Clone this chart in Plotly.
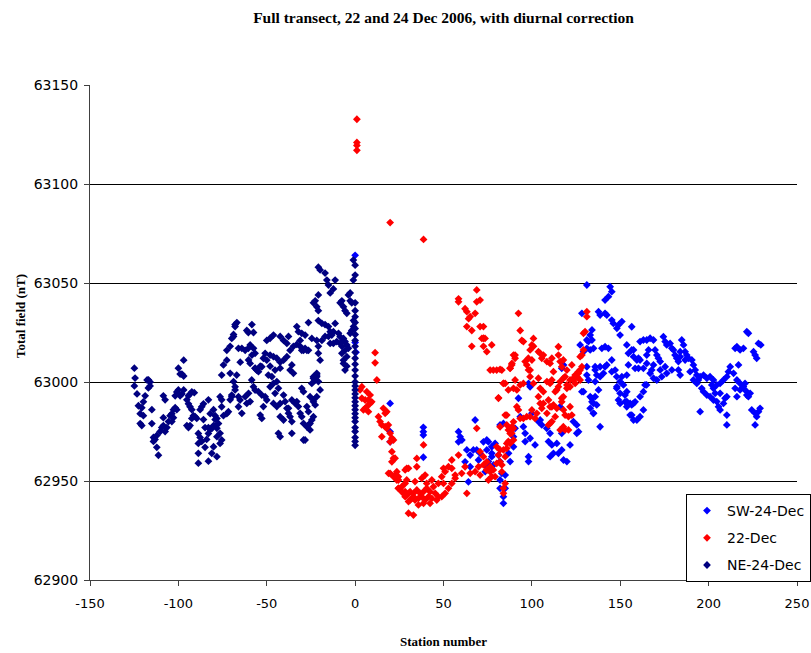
import plotly.graph_objects as go

# ---------------- data (station number, total field nT) ----------------
series_names = ["SW-24-Dec", "22-Dec", "NE-24-Dec"]
series_colors = ["#0000FF", "#FF0000", "#000080"]
x_ticks = [-150, -100, -50, 0, 50, 100, 150, 200, 250]
y_ticks = [62900, 62950, 63000, 63050, 63100, 63150]

ne_points = [
    (-124.9, 63007), (-124.5, 63002), (-124.9, 62998), (-123.4, 62994), (-117.7, 63001), (-116.9, 63001),
    (-116.0, 63000), (-118.8, 62993), (-117.0, 62997), (-116.0, 62998), (-119.8, 62990), (-122.6, 62988),
    (-120.7, 62987), (-121.6, 62984), (-119.8, 62983), (-121.6, 62979), (-120.7, 62978), (-115.0, 62986),
    (-115.0, 62979), (-114.1, 62972), (-113.2, 62971), (-112.2, 62973), (-114.1, 62970), (-112.2, 62967),
    (-111.3, 62963), (-110.3, 62975), (-109.4, 62977), (-108.5, 62978), (-108.5, 62982), (-106.5, 62977),
    (-107.5, 62975), (-105.6, 62980), (-104.7, 62983), (-103.7, 62984), (-102.8, 62986), (-101.8, 62987),
    (-100.9, 62986), (-102.8, 62982), (-103.7, 62980), (-108.5, 62993), (-107.5, 62991), (-101.8, 62993),
    (-100.9, 62995), (-100.0, 62996), (-99.0, 62993), (-98.0, 62994), (-97.0, 62996), (-100.0, 63007),
    (-99.0, 63004), (-98.0, 63004), (-97.0, 63003), (-97.0, 63011),
    (-95.2, 62991), (-94.3, 62989), (-93.4, 62987.5), (-92.4, 62986), (-91.5, 62983), (-92.4, 62981.6),
    (-93.4, 62978), (-94.3, 62977), (-95.2, 62978), (-94.3, 62993), (-93.4, 62994), (-92.4, 62995),
    (-91.0, 62994.6), (-90.5, 62982.5), (-89.6, 62981.6), (-87.7, 62986), (-86.8, 62987.5), (-85.8, 62989),
    (-88.7, 62974), (-87.7, 62972), (-88.7, 62969), (-86.8, 62970), (-84.0, 62971), (-84.9, 62967),
    (-83.0, 62974), (-82.0, 62976), (-88.7, 62964), (-88.7, 62959), (-83.0, 62960), (-85.8, 62981),
    (-84.9, 62977), (-83.0, 62977), (-81.0, 62976.6), (-80.1, 62978), (-79.2, 62981), (-78.2, 62981.6),
    (-77.3, 62979), (-78.2, 62976.6), (-83.0, 62991), (-82.0, 62984), (-80.1, 62986), (-79.2, 62983),
    (-76.4, 62992.6), (-75.5, 62991), (-75.5, 62987.5), (-74.5, 62983), (-72.6, 62984), (-71.7, 62985),
    (-70.7, 62991), (-69.8, 62993.4), (-75.5, 63003.5), (-74.5, 63008.6), (-72.6, 63011), (-72.6, 63016),
    (-70.7, 63018), (-69.8, 63022), (-68.8, 63024), (-67.9, 63029), (-66.9, 63030), (-66.0, 63017),
    (-70.7, 63004.4), (-68.8, 63000.2), (-67.9, 62996), (-66.0, 62992.6), (-66.0, 62987.5), (-76.4, 62974.1),
    (-75.5, 62970.7), (-78.2, 62972.4), (-80.1, 62967.3), (-81.1, 62964), (-78.2, 62962.3), (-76.4, 62969),
    (-67.9, 63028), (-68.8, 63023), (-61.3, 63026), (-60.4, 63025), (-58.4, 63029), (-57.5, 63025),
    (-64.1, 63017), (-62.2, 63016), (-60.4, 63017), (-59.4, 63018.7), (-57.5, 63017), (-56.6, 63014.5),
    (-58.4, 63013.6), (-65.0, 63010), (-56.6, 63007), (-55.7, 63006), (-53.7, 63008), (-50.0, 63021),
    (-50.9, 63014.5), (-51.9, 63012), (-50.0, 63011), (-48.1, 63013.6), (-46.2, 63012.8), (-44.3, 63012),
    (-42.4, 63010), (-40.5, 63011), (-38.6, 63012.8), (-36.8, 63016), (-34.9, 63018), (-33.0, 63019),
    (-31.1, 63018), (-29.2, 63016), (-27.3, 63016), (-42.4, 63023), (-40.5, 63021), (-38.6, 63019.5),
    (-37.7, 63023), (-48.1, 63008), (-49.1, 63003.5), (-47.1, 63002.7), (-45.3, 63006), (-42.4, 63007),
    (-35.8, 63008.6), (-36.8, 63006), (-34.9, 63004.4), (-33.0, 63028), (-32.1, 63025.4), (-30.2, 63024.6),
    (-28.3, 63023.7), (-31.1, 63021), (-26.4, 63030), (-24.5, 63022), (-26.4, 63016), (-30.2, 63016),
    (-28.3, 63017), (-23.6, 63040), (-22.6, 63041), (-21.7, 63038), (-20.8, 63044), (-20.8, 63036),
    (-20.8, 63058), (-19.8, 63056.6), (-17.0, 63055), (-16.0, 63051.5), (-15.1, 63049), (-14.1, 63045),
    (-12.3, 63047), (-11.3, 63051.5), (-20.8, 63031), (-18.8, 63029.6), (-17.0, 63029), (-15.1, 63028),
    (-14.1, 63025.4), (-13.2, 63023.7), (-12.3, 63025.4), (-11.3, 63029.6), (-9.4, 63024.6), (-8.5, 63022.9),
    (-6.6, 63022), (-5.7, 63020.4), (-4.7, 63018.7), (-3.8, 63017), (-21.7, 63021), (-20.8, 63018),
    (-20.8, 63014.5), (-19.8, 63011), (-18.8, 63021), (-17.0, 63023), (-15.1, 63023), (-14.1, 63019.5),
    (-12.3, 63019.5), (-10.4, 63020.4), (-8.5, 63019.5), (-7.5, 63018), (-5.7, 63016), (-6.6, 63011),
    (-4.7, 63008), (-5.7, 63006), (-23.6, 63002.7), (-22.6, 63001), (-21.7, 63004.4), (-8.5, 63040),
    (-6.6, 63038), (-5.7, 63036), (-3.8, 63044), (-2.8, 63041), (-1.0, 63061.6), (0.0, 63059),
    (0.0, 63054), (-1.0, 63051.5), (-2.8, 63045), (-7.5, 63041), (-1.9, 63040), (-4.7, 63034.7),
    (-0.9, 63028), (-1.9, 63026), (-2.8, 63024.6), (-0.9, 63031), (-6.6, 63021), (-7.5, 63014.5),
    (-4.7, 63012.8), (-6.6, 63009.4),
    (-67.0, 63003.5), (-67.9, 62997.6), (-69.8, 62992.6), (-65.1, 62990.9), (-62.2, 62992.6), (-60.3, 62994.3),
    (-58.5, 63001.0), (-57.5, 62997.6), (-56.6, 62995.9), (-54.7, 62995.1), (-52.8, 62993.4), (-50.9, 62992.6),
    (-50.0, 62990.9), (-51.9, 62987.6), (-53.7, 62983.3), (-52.8, 62981.6), (-64.1, 62984.2), (-61.3, 62989.2),
    (-59.4, 62990.1), (-48.1, 62997.6), (-46.2, 62999.3), (-44.3, 63000.2), (-43.4, 62996.8), (-45.3, 62994.3),
    (-46.2, 62989.2), (-44.3, 62987.6), (-42.4, 62989.2), (-40.5, 62993.4), (-39.6, 62990.1), (-38.6, 62986.7),
    (-37.7, 62984.2), (-36.8, 62982.5), (-35.8, 62980.0), (-40.5, 62980.8), (-42.4, 62982.5), (-43.4, 62974.1),
    (-42.4, 62972.4), (-35.8, 62974.1), (-37.7, 62986.7), (-35.8, 62990.9), (-33.9, 62989.2), (-33.0, 62990.1),
    (-32.1, 62987.6), (-31.1, 62984.2), (-30.2, 62982.5), (-29.2, 62979.1), (-27.3, 62977.4), (-26.4, 62978.3),
    (-28.3, 62970.7), (-25.5, 62975.8), (-24.5, 62980.8), (-26.4, 62985.0), (-27.3, 62987.6), (-30.2, 62996.8),
    (-29.2, 62995.1), (-25.5, 62992.6), (-23.6, 62990.9), (-22.6, 62988.4), (-24.5, 62999.3), (-23.6, 63001.9),
    (-21.7, 63003.5), (-56.6, 63006.9), (-54.7, 63005.2), (-52.8, 63007.7), (-60.3, 63011.1), (-59.4, 63009.4),
    (-48.1, 63022.1), (-46.2, 63023.7), (-29.2, 62970.7), (-25.5, 62979.0), (-23.6, 62982.5), (-21.7, 63002.7),
    (-20.8, 63000.2), (-19.8, 62996.0), (-21.7, 62992.6), (-23.6, 62990.0),
    (0.0, 63040), (0.0, 63036), (0.0, 63033), (0.0, 63030), (0.0, 63027), (0.0, 63024), (0.0, 63021),
    (0.0, 63018), (0.0, 63015), (0.0, 63012), (0.0, 63009), (0.0, 63006), (0.0, 63003), (0.0, 63000),
    (0.0, 62998), (0.0, 62996), (0.0, 62994), (0.0, 62992), (0.0, 62990), (0.0, 62988), (0.0, 62986),
    (0.0, 62984), (0.0, 62982), (0.0, 62980), (0.0, 62977), (0.0, 62975), (0.0, 62972), (0.0, 62970),
    (0.0, 62968),
]

dec22_points = [
    (1.0, 63132.7), (1.0, 63121), (1.0, 63119.5), (1.0, 63117), (19.8, 63080.5), (38.7, 63072),
    (11.3, 63014.8), (11.3, 63009.7), (12.3, 63001), (3.8, 62997.6), (6.6, 62995.1), (8.5, 62993.4),
    (7.5, 62990.9), (5.7, 62990.9), (8.5, 62989.2), (9.4, 62990), (6.6, 62987.5), (7.5, 62985),
    (4.7, 62985.9), (2.8, 62996), (3.8, 62991.8), (5.7, 62986.7), (13.2, 62982.5), (14.1, 62980),
    (15.1, 62978.3), (17.0, 62977.4), (17.9, 62976.6), (18.8, 62978.3), (16.0, 62986.7), (17.9, 62985),
    (17.0, 62984.2), (15.1, 62972.4), (19.8, 62974.1), (20.8, 62971.6), (21.7, 62970.7), (19.8, 62969.8),
    (20.8, 62964.8), (21.7, 62961.5), (22.6, 62961.5), (20.8, 62959.7), (19.8, 62953.9), (22.6, 62953),
    (24.5, 62952.2), (23.6, 62950.5), (24.5, 62946.3), (26.4, 62947.1), (28.3, 62955.6), (30.2, 62956.4),
    (29.2, 62950.5), (28.3, 62948.8), (28.3, 62944.6), (30.2, 62943.8), (31.1, 62940.4), (33.0, 62942.1),
    (30.2, 62933.7), (33.0, 62932.8),
    (18.9, 62953.9), (21.7, 62952.2), (23.6, 62954.7), (24.5, 62950.5), (27.3, 62943.8), (29.2, 62942.9),
    (31.1, 62944.6), (33.0, 62943.8), (34.9, 62945.5), (36.8, 62943.8), (38.7, 62944.6), (40.5, 62946.3),
    (42.4, 62944.6), (44.3, 62947.1), (45.3, 62943.8), (47.1, 62942.1), (43.4, 62941.2), (41.5, 62942.1),
    (39.6, 62940.4), (37.7, 62942.1), (35.8, 62941.2), (33.9, 62940.4), (32.1, 62941.2), (30.2, 62939.6),
    (28.3, 62942.1), (26.4, 62944.6), (24.5, 62946.3), (35.8, 62937.9), (38.7, 62938.7), (42.4, 62938.7),
    (46.2, 62940.4), (49.0, 62942.1), (50.9, 62943.8), (52.8, 62946.3), (54.7, 62948.8), (56.6, 62951.4),
    (33.9, 62949.7), (37.7, 62951.4), (40.5, 62948.8), (43.4, 62950.5), (47.1, 62948.8), (49.0, 62952.2),
    (50.9, 62954.7), (52.8, 62957.2), (54.7, 62960.6), (58.5, 62963.1), (39.6, 62953.0), (34.9, 62961.4),
    (34.9, 62957.2), (38.7, 62968.2), (29.2, 62956.4), (63.2, 62943.8), (60.3, 62953.9), (65.1, 62953.9),
    (67.9, 62954.7), (69.8, 62957.2), (72.6, 62958.1), (74.5, 62955.5), (76.4, 62954.7), (77.3, 62952.2),
    (70.7, 62953.0), (56.6, 62953.0), (54.7, 62956.4), (50.0, 62956.4), (62.2, 62957.2), (50.0, 62948.8),
    (68.8, 62976.6),
    (58.5, 63042), (58.5, 63040.5), (68.8, 63046.5), (62.2, 63037), (63.2, 63035.5), (64.2, 63032),
    (65.1, 63033), (67.9, 63034.7), (63.2, 63028), (66.0, 63026), (66.0, 63018), (68.8, 63040.5),
    (70.7, 63028), (72.6, 63028), (73.5, 63022), (71.7, 63022), (77.3, 63018.7), (74.5, 63015.3),
    (72.6, 63018), (76.4, 63006), (78.2, 63006), (80.1, 63006), (82.0, 63006.4), (83.0, 63006),
    (83.9, 62999.3), (86.7, 62996), (81.1, 62992), (85.8, 62983.3), (89.6, 62976.6), (87.7, 62974),
    (82.0, 62977.4), (83.9, 62965.7), (85.8, 62969), (86.7, 62970), (89.6, 62970.7), (92.4, 63034.7),
    (93.4, 63026), (94.3, 63021), (95.2, 63020.4), (89.6, 63013.6), (90.5, 63012), (88.7, 63009.4),
    (87.7, 63007), (100.9, 63018),
    (96.2, 63010.3), (97.1, 63008.6), (98.0, 63012), (99.0, 63016.2), (100.0, 63018.7), (100.9, 63022),
    (100.0, 63011.1), (99.0, 63006), (103.7, 63015.3), (104.7, 63014.5), (105.6, 63012), (106.5, 63013.6),
    (108.5, 63010.3), (110.3, 63009.4), (111.3, 63012), (115.0, 63017.8), (115.0, 63013.6), (116.0, 63010.3),
    (116.9, 63007.7), (117.8, 63011.1), (119.8, 63006), (121.6, 63001), (123.5, 63001.9), (125.4, 63002.7),
    (126.3, 63005.2), (127.3, 63006), (128.3, 63007.7), (127.3, 63012.8), (128.3, 63013.6), (129.2, 63016.2),
    (129.2, 63024.6), (130.1, 63025.4), (131.1, 63033), (131.1, 63035.5),
    (84.9, 62999.3), (90.5, 63001), (89.6, 62996.8), (91.5, 62996), (93.4, 62998.5), (95.2, 62999.3),
    (99.0, 63002.7), (100.9, 62999.3), (103.7, 63001.9), (104.7, 62996.8), (106.5, 62995.1), (108.5, 63000.2),
    (110.3, 62999.3), (111.3, 63001), (113.2, 62995.1), (115.0, 62997.6), (116.0, 63000.2), (117.8, 63001.9),
    (119.8, 62998.5), (121.6, 62997.6), (124.5, 62999.3), (125.4, 63002.7), (126.3, 63004.4), (127.3, 63001),
    (81.1, 62991.8), (84.9, 62983.3), (85.8, 62978.3), (86.7, 62975.8), (88.7, 62977.4), (89.6, 62979.9),
    (91.5, 62987.5), (92.4, 62985.9), (93.4, 62981.6), (95.2, 62981.6), (97.1, 62982.5), (99.0, 62982.5),
    (100.0, 62985.9), (101.8, 62981.6), (102.8, 62984.2), (105.6, 62986.7), (106.5, 62989.2), (108.5, 62984.2),
    (109.4, 62978.3), (110.3, 62979.1), (111.3, 62987.5), (113.2, 62982.5), (114.1, 62986.7), (116.9, 62990),
    (117.8, 62992.6), (118.8, 62983.3), (120.7, 62982.5), (122.6, 62983.3), (116.0, 62975.8), (118.8, 62975.8),
    (120.7, 62975.8), (117.8, 62977.4),
    (70.7, 62964.8), (72.6, 62962.3), (74.5, 62959.7), (76.4, 62957.2), (78.2, 62955.6), (80.1, 62958.9),
    (81.1, 62963.1), (82.0, 62959.7), (83.0, 62954.7), (74.5, 62955.6), (75.4, 62950.5), (79.2, 62952.2),
    (80.1, 62967.3), (84.9, 62948.8), (83.9, 62946.3), (83.9, 62943.8),
    (70.7, 63041.4), (72.6, 63022.1), (87.7, 63006.9), (88.6, 63008.6), (90.5, 63013.6), (98.1, 63006.1),
    (112.2, 63005.2), (118.8, 63002.7), (122.6, 63008.6), (124.5, 63003.5), (83.9, 62999.3), (103.7, 62992.6),
    (104.7, 62989.2), (109.4, 62990.9), (110.3, 62987.5), (112.2, 62988.4), (111.3, 62980.0), (114.1, 62996.0),
    (116.9, 62991.8), (117.9, 62985.9), (121.6, 62987.5), (119.8, 62996.8), (123.5, 63001.0), (88.6, 62974.1),
    (87.7, 62969.0), (85.8, 62966.5), (84.9, 62962.3), (82.0, 62965.7), (83.0, 62958.1),
]

sw_points = [
    (0.0, 63064), (0.0, 63020), (0.5, 63015),
    (19.8, 62989.2), (19.8, 62974.9), (19.8, 62969.8), (38.6, 62977.1), (38.6, 62974.9), (38.6, 62973.2),
    (38.6, 62962), (67.9, 62980.8), (58.5, 62974.9), (59.4, 62972.4), (60.4, 62970.7), (58.5, 62969.8),
    (63.2, 62965.7), (65.1, 62963.1), (66.9, 62965.7), (62.2, 62959.7), (65.1, 62957.2), (68.8, 62965.7),
    (70.7, 62964), (72.6, 62969.8), (75.4, 62969.8), (74.5, 62965.7), (77.3, 62967.3), (69.8, 62960.6),
    (73.5, 62958.1), (76.4, 62957.2), (77.3, 62962.3), (64.1, 62949.6),
    (74.5, 62970.7), (79.2, 62969.0), (77.3, 62964.0), (75.4, 62959.8), (78.3, 62958.1), (81.1, 62963.1),
    (82.0, 62959.8), (84.9, 62953.0), (82.0, 62950.5), (82.0, 62946.3), (83.9, 62942.1), (84.9, 62946.3),
    (83.9, 62938.7), (87.7, 62959.8), (86.8, 62964.0), (89.6, 62967.3), (83.0, 62953.9), (76.4, 62957.2),
    (73.6, 62954.7),
    (98.1, 62999.3), (99.0, 62997.6), (92.4, 62991.8), (82.0, 62978.3), (83.9, 62979.1), (93.4, 62982.5),
    (95.2, 62977.4), (90.5, 62976.6), (89.6, 62972.4), (96.2, 62974.1), (99.0, 62971.6), (96.2, 62969.9),
    (101.8, 62968.2), (98.1, 62962.3), (98.1, 62959.8), (100.0, 62984.2), (103.7, 62980.0), (104.7, 62980.8),
    (105.6, 62978.3), (108.4, 62976.6), (110.3, 62974.1), (109.4, 62969.9), (111.3, 62968.2), (114.1, 62969.0),
    (115.0, 62964.0), (110.3, 62962.3), (112.2, 62964.0), (116.9, 62965.7), (117.9, 62960.6), (119.8, 62959.8),
    (121.6, 62968.2), (116.9, 62974.1), (123.5, 62980.0), (125.4, 62978.3), (126.4, 62974.9), (125.4, 62974.1),
    (116.0, 62987.5), (116.9, 63006.9), (117.9, 63008.6), (127.3, 63018.7), (129.2, 63015.3),
    (129.2, 62995.1), (133.9, 62991.8), (135.8, 62992.6), (134.8, 62989.2), (133.0, 62986.7), (134.8, 62984.2),
    (137.7, 62996.0), (138.6, 62977.4), (141.4, 63007.7), (142.4, 63008.6), (145.2, 63005.2), (148.0, 62996.8),
    (149.9, 62994.3), (152.7, 62993.4), (153.7, 62990.1), (155.6, 62989.2), (156.5, 62983.3), (157.5, 62980.8),
    (159.4, 62980.8), (148.0, 63002.7), (153.7, 63003.5), (154.6, 63008.6), (157.5, 63016.2), (161.2, 63011.1),
    (135.8, 63006.1), (136.7, 63003.5), (135.8, 63000.2), (138.6, 63002.7), (140.5, 63004.4),
    (131.1, 63049), (144.3, 63048.1), (145.2, 63045.6), (143.3, 63043.1), (141.4, 63041.4), (137.7, 63035.5),
    (138.6, 63033.8), (141.4, 63034.7), (142.4, 63033.8), (128.3, 63034.7), (134.0, 63026.3), (133.0, 63023.7),
    (131.1, 63021.2), (132.0, 63020.4), (134.0, 63021.2), (131.1, 63017), (133.0, 63016.2), (134.9, 63017),
    (139.6, 63017), (141.4, 63017.8), (143.3, 63017), (145.2, 63031.3), (146.1, 63029.6), (149.0, 63028.8),
    (148.1, 63027.1), (149.9, 63023.7), (150.9, 63030.5), (156.5, 63027.9), (135.8, 63007.7), (138.6, 63007.7),
    (145.2, 63011.1), (147.1, 63006), (131.1, 63007.7), (131.1, 63003.5), (132.0, 63001), (128.3, 62995.1),
    (133.0, 62992.6), (134.0, 62990), (136.7, 62988.4), (134.9, 62984.2), (148.1, 62997.6), (149.9, 63000.2),
    (150.9, 63002.7), (151.8, 62998.5), (153.7, 62995.1), (149.0, 62990.9), (149.9, 62989.2), (152.7, 62990),
    (153.7, 62987.5), (156.5, 62988.4), (157.4, 62989.2), (158.4, 62990), (155.6, 62983.3), (161.2, 62982.5),
    (163.1, 62985.9), (161.2, 62992.6), (163.1, 62995.1), (164.0, 62998.5), (164.9, 62998.5),
    (156.5, 63016.2), (153.7, 63018.7), (154.6, 63014.5), (157.5, 63012.8), (159.4, 63011.1), (160.3, 63012.0),
    (158.4, 63006.9), (160.3, 63006.9), (163.1, 63006.9), (165.0, 63009.4), (165.0, 63013.6), (166.0, 63016.2),
    (165.0, 63021.2), (163.1, 63021.2), (161.2, 63020.4), (166.9, 63022.1), (168.8, 63021.2), (169.7, 63016.2),
    (170.7, 63013.6), (171.6, 63012.0), (172.6, 63010.3), (168.8, 63008.6), (167.8, 63006.1), (166.9, 63004.4),
    (168.8, 63001.9), (170.7, 63001.0), (172.6, 63006.1), (175.4, 63007.7), (176.3, 63004.4), (173.5, 63002.7),
    (174.4, 63022.9), (175.4, 63020.4), (176.3, 63018.7), (178.2, 63019.5), (179.2, 63017.0), (180.1, 63016.2),
    (182.0, 63012.0), (182.9, 63010.3), (183.9, 63012.8), (184.8, 63021.2), (185.8, 63018.7), (186.7, 63015.3),
    (187.6, 63013.6), (188.6, 63012.0), (190.5, 63011.1), (191.4, 63008.6), (192.4, 63006.1), (193.3, 63003.5),
    (194.2, 63001.0), (195.2, 63002.7), (197.1, 63003.5), (199.0, 63001.9), (200.8, 63002.7), (202.7, 63001.0),
    (204.6, 62998.5), (206.5, 62999.3), (208.4, 63001.0), (210.3, 63002.7), (211.2, 63005.2), (212.2, 63007.7),
    (214.1, 63004.4), (216.0, 63001.0), (217.8, 62999.3), (219.7, 62997.7), (221.6, 62993.4), (222.5, 62992.6),
    (216.9, 63008.6), (215.0, 63017.0), (216.0, 63017.8), (217.8, 63016.2), (219.7, 63017.0), (221.6, 63025.4),
    (222.5, 63024.6), (225.4, 63015.3), (226.3, 63013.6), (228.2, 63019.5), (229.5, 63018.7), (227.2, 63012.0),
    (224.4, 62985.9), (226.3, 62984.2), (228.2, 62985.0), (229.1, 62986.7), (227.2, 62982.5), (226.3, 62978.3),
    (195.2, 62985.0), (199.0, 62993.4), (200.8, 62992.6), (202.7, 62990.9), (204.6, 62990.1), (205.6, 62987.5),
    (206.5, 62985.9), (208.4, 62989.2), (209.3, 62991.8), (210.3, 62992.6), (206.5, 62994.3), (203.7, 62994.3),
    (202.7, 62996.8), (201.8, 62998.5), (210.3, 62983.3), (210.3, 62978.3), (216.0, 62992.6), (217.8, 62996.0),
    (219.7, 62996.8), (221.6, 62995.1), (223.5, 62994.3), (220.6, 62999.3), (215.0, 62996.8), (196.1, 62996.8),
    (197.1, 62995.1), (193.3, 62999.3), (191.4, 63001.0), (189.5, 63005.2), (186.7, 63011.1), (183.9, 63015.3),
    (181.0, 63013.6), (179.2, 63006.1), (182.9, 63006.1), (183.9, 63003.5),
]

# ---------------- figure ----------------
series_points = [sw_points, dec22_points, ne_points]

fig = go.Figure()
for name, color, pts in zip(series_names, series_colors, series_points):
    fig.add_trace(go.Scatter(
        x=[p[0] for p in pts],
        y=[p[1] for p in pts],
        mode="markers",
        name=name,
        legendgroup=name,
        marker=dict(symbol="diamond", size=6, color=color, line=dict(width=0)),
    ))

xtick_font = dict(family="DejaVu Sans", size=13, color="black")
ytick_font = dict(family="DejaVu Sans", size=14, color="black")
serif_bold = dict(family="Liberation Serif", size=13, color="black")

fig.update_layout(
    width=811, height=653,
    margin=dict(l=90, r=14, t=85, b=73, autoexpand=False),
    paper_bgcolor="white", plot_bgcolor="white",
    showlegend=True,
    title=dict(
        text="<b>Full transect, 22 and 24 Dec 2006, with diurnal correction</b>",
        font=dict(family="Liberation Serif", size=15.5, color="black"),
        x=0.5, xref="paper", y=1 - 18 / 653, yref="container", yanchor="middle", xanchor="center",
    ),
    xaxis=dict(
        range=[-150, 250], tickvals=x_ticks, ticktext=[str(v) for v in x_ticks],
        showgrid=False, zeroline=False, showline=True, linecolor="#404040", linewidth=1,
        ticks="outside", ticklen=5, tickcolor="#404040", tickfont=xtick_font,
        ticklabelstandoff=6,
    ),
    yaxis=dict(
        range=[62900, 63150], tickvals=y_ticks, ticktext=[str(v) for v in y_ticks],
        showgrid=True, gridcolor="black", gridwidth=1, zeroline=False,
        showline=True, linecolor="#404040", linewidth=1,
        ticks="outside", ticklen=5, tickcolor="#404040", tickfont=ytick_font,
        ticklabelstandoff=3,
    ),
    legend=dict(
        xref="container", yref="container",
        x=1.0, xanchor="right", y=(653 - 494) / 653, yanchor="top",
        bordercolor="black", borderwidth=1, bgcolor="white",
        font=dict(family="DejaVu Sans", size=14, color="black"),
        tracegroupgap=6, itemsizing="trace",
    ),
    annotations=[
        dict(text="<b>Station number</b>", x=0.5, y=(580 - 641) / 495, xref="paper", yref="paper",
             showarrow=False, font=serif_bold, xanchor="center", yanchor="middle"),
        dict(text="<b>Total field (nT)</b>", x=(20 - 90) / 707, y=(580 - 316) / 495, xref="paper", yref="paper",
             showarrow=False, font=serif_bold, textangle=-90, xanchor="center", yanchor="middle"),
    ],
)

fig.write_html("out.html")
